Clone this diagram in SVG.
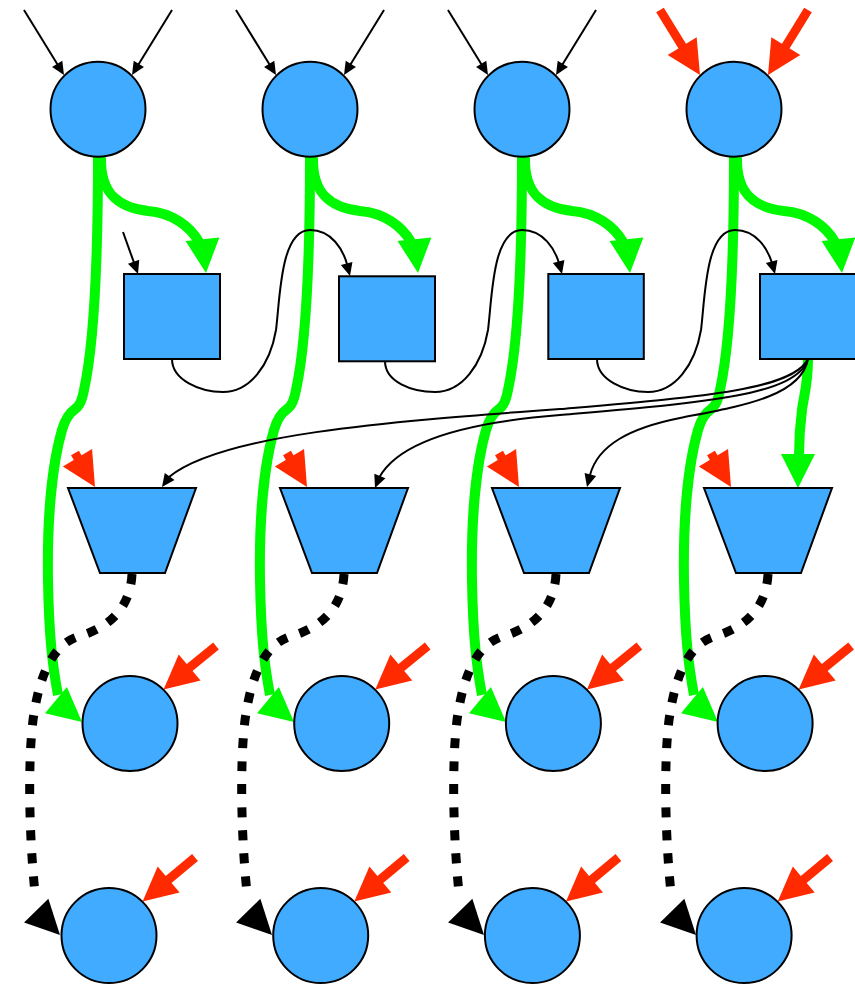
<svg xmlns="http://www.w3.org/2000/svg" xmlns:xlink="http://www.w3.org/1999/xlink" width="855" height="984" viewBox="0 0 855 984">
  <style>
    .node { fill: #40abff; stroke: #000; stroke-width: 2; }
    .thin { fill: none; stroke: #000; stroke-width: 2; }
    .green { fill: none; stroke: #00f800; stroke-width: 10; }
    .red { fill: none; stroke: #ff2a00; stroke-width: 9; }
    .dash { fill: none; stroke: #000; stroke-width: 9; stroke-dasharray: 10 13; }
    .hg { fill: #00f800; }
    .hr { fill: #ff2a00; }
    .hk { fill: #000; }
  </style>
  <defs>
    <!-- arrowheads drawn pointing along +x with the tip at the origin -->
    <path id="head" d="M0,0 L-34,-17 L-34,17 Z"/>
    <path id="headThin" d="M0,0 L-13,-6 L-13,6 Z"/>
  </defs>

  <g id="connectors">
    <!-- green trunks: top circle down to the fourth row -->
    <g id="trunks">
      <path class="green" d="M98,157 C98,250 95,340 84,390 C82,400 80,406 74,410 C68,414 65,420 62,430 C52,465 47,520 48,580 C49,640 53,668 58,695"/>
      <path class="green" transform="translate(212,0)" d="M98,157 C98,250 95,340 84,390 C82,400 80,406 74,410 C68,414 65,420 62,430 C52,465 47,520 48,580 C49,640 53,668 58,695"/>
      <path class="green" transform="translate(424,0)" d="M98,157 C98,250 95,340 84,390 C82,400 80,406 74,410 C68,414 65,420 62,430 C52,465 47,520 48,580 C49,640 53,668 58,695"/>
      <path class="green" transform="translate(636,0)" d="M98,157 C98,250 95,340 84,390 C82,400 80,406 74,410 C68,414 65,420 62,430 C52,465 47,520 48,580 C49,640 53,668 58,695"/>
      <use href="#head" class="hg" transform="translate(82,722) rotate(40)"/>
      <use href="#head" class="hg" transform="translate(294,722) rotate(40)"/>
      <use href="#head" class="hg" transform="translate(506,722) rotate(40)"/>
      <use href="#head" class="hg" transform="translate(718,722) rotate(40)"/>
    </g>

    <!-- green branches: top circle to square -->
    <g id="branches">
      <path class="green" d="M101,157 C100,195 120,208 148,211 C172,213 190,226 199,242"/>
      <path class="green" transform="translate(212,0)" d="M101,157 C100,195 120,208 148,211 C172,213 190,226 199,242"/>
      <path class="green" transform="translate(424,0)" d="M101,157 C100,195 120,208 148,211 C172,213 190,226 199,242"/>
      <path class="green" transform="translate(636,0)" d="M101,157 C100,195 120,208 148,211 C172,213 190,226 199,242"/>
      <use href="#head" class="hg" transform="translate(206,273) rotate(84)"/>
      <use href="#head" class="hg" transform="translate(418,273) rotate(84)"/>
      <use href="#head" class="hg" transform="translate(630,273) rotate(84)"/>
      <use href="#head" class="hg" transform="translate(842,273) rotate(84)"/>
      <!-- last square to last trapezoid -->
      <path class="green" d="M808,359 C808,385 803,400 802,410 C800,425 799,440 799,456"/>
      <use href="#head" class="hg" transform="translate(798,488) rotate(90)"/>
    </g>

    <!-- top inputs -->
    <g id="inputs">
      <path class="thin" d="M24,10 L57.7,64.8"/>
      <path class="thin" d="M172,10 L138.3,64.8"/>
      <path class="thin" d="M236,10 L269.7,64.8"/>
      <path class="thin" d="M384,10 L350.3,64.8"/>
      <path class="thin" d="M448,10 L481.7,64.8"/>
      <path class="thin" d="M596,10 L562.3,64.8"/>
      <use href="#headThin" class="hk" transform="translate(64,75) rotate(58.4)"/>
      <use href="#headThin" class="hk" transform="translate(132,75) rotate(121.6)"/>
      <use href="#headThin" class="hk" transform="translate(276,75) rotate(58.4)"/>
      <use href="#headThin" class="hk" transform="translate(344,75) rotate(121.6)"/>
      <use href="#headThin" class="hk" transform="translate(488,75) rotate(58.4)"/>
      <use href="#headThin" class="hk" transform="translate(556,75) rotate(121.6)"/>
      <path class="red" d="M660,10 L684,49"/>
      <path class="red" d="M808,10 L784,49"/>
      <use href="#head" class="hr" transform="translate(700,75) rotate(58.4)"/>
      <use href="#head" class="hr" transform="translate(768,75) rotate(121.6)"/>
      <!-- input into the first square -->
      <path class="thin" d="M123,232 L134,262.7"/>
      <use href="#headThin" class="hk" transform="translate(138,274) rotate(70.3)"/>
    </g>

    <!-- square chain -->
    <g id="chain">
      <path class="thin" d="M172,359 C172,380 200,392 223,392 C250,392 270,365 276,330 C280,300 280,230 310,230 C332,230 343,250 347,264"/>
      <path class="thin" d="M385,361 C385,382 412,392 435,392 C462,392 482,365 488,330 C492,300 492,230 522,230 C544,230 555,250 559,263"/>
      <path class="thin" d="M597,359 C597,380 625,392 648,392 C675,392 695,365 701,330 C705,300 705,230 735,230 C757,230 768,250 772,263"/>
      <use href="#headThin" class="hk" transform="translate(350,276) rotate(75)"/>
      <use href="#headThin" class="hk" transform="translate(562,274) rotate(75)"/>
      <use href="#headThin" class="hk" transform="translate(775,274) rotate(75)"/>
    </g>

    <!-- fan-out from the last square -->
    <g id="fanout">
      <path class="thin" d="M808,359 C793,390 700,397 560,409 C380,422 220,435 169,477"/>
      <path class="thin" d="M808,359 C797,396 700,403 560,415 C470,422 400,440 379.5,477"/>
      <path class="thin" d="M808,359 C801,397 740,406 680,418 C630,428 598,445 590,475"/>
      <use href="#headThin" class="hk" transform="translate(162,487) rotate(126)"/>
      <use href="#headThin" class="hk" transform="translate(375,488) rotate(112)"/>
      <use href="#headThin" class="hk" transform="translate(587,487) rotate(105)"/>
    </g>

    <!-- red inputs into trapezoids -->
    <g id="trap-inputs">
      <path class="red" d="M75,453 L79,460"/>
      <path class="red" d="M287,453 L291,460"/>
      <path class="red" d="M499,453 L503,460"/>
      <path class="red" d="M711,453 L715,460"/>
      <use href="#head" class="hr" transform="translate(95,487) rotate(59)"/>
      <use href="#head" class="hr" transform="translate(307,487) rotate(59)"/>
      <use href="#head" class="hr" transform="translate(519,487) rotate(59)"/>
      <use href="#head" class="hr" transform="translate(731,487) rotate(59)"/>
    </g>

    <!-- dotted: trapezoid to bottom circle -->
    <g id="dotted">
      <path class="dash" d="M132,574 C130,615 100,630 80,636 C55,643 40,670 33,720 C27,770 30,845 35,893"/>
      <path class="dash" transform="translate(212,0)" d="M132,574 C130,615 100,630 80,636 C55,643 40,670 33,720 C27,770 30,845 35,893"/>
      <path class="dash" transform="translate(424,0)" d="M132,574 C130,615 100,630 80,636 C55,643 40,670 33,720 C27,770 30,845 35,893"/>
      <path class="dash" transform="translate(636,0)" d="M132,574 C130,615 100,630 80,636 C55,643 40,670 33,720 C27,770 30,845 35,893"/>
      <use href="#head" class="hk" transform="translate(60,935) rotate(45.6)"/>
      <use href="#head" class="hk" transform="translate(272,935) rotate(45.6)"/>
      <use href="#head" class="hk" transform="translate(484,935) rotate(45.6)"/>
      <use href="#head" class="hk" transform="translate(696,935) rotate(45.6)"/>
    </g>

    <!-- red inputs into the lower circles -->
    <g id="circle-inputs">
      <path class="red" d="M216,646 L189,668"/>
      <path class="red" d="M427.7,646 L400.7,668"/>
      <path class="red" d="M639.4,646 L612.4,668"/>
      <path class="red" d="M851.1,646 L824.1,668"/>
      <use href="#head" class="hr" transform="translate(163.6,689.4) rotate(140)"/>
      <use href="#head" class="hr" transform="translate(375.3,689.4) rotate(140)"/>
      <use href="#head" class="hr" transform="translate(587,689.4) rotate(140)"/>
      <use href="#head" class="hr" transform="translate(798.7,689.4) rotate(140)"/>
      <path class="red" d="M195,857.5 L168,880"/>
      <path class="red" d="M406.7,857.5 L379.7,880"/>
      <path class="red" d="M618.4,857.5 L591.4,880"/>
      <path class="red" d="M830.1,857.5 L803.1,880"/>
      <use href="#head" class="hr" transform="translate(142.6,901.4) rotate(140)"/>
      <use href="#head" class="hr" transform="translate(354.3,901.4) rotate(140)"/>
      <use href="#head" class="hr" transform="translate(566,901.4) rotate(140)"/>
      <use href="#head" class="hr" transform="translate(777.7,901.4) rotate(140)"/>
    </g>
  </g>

  <!-- row 1: circles -->
  <g id="a1"><circle class="node" cx="98" cy="109.2" r="47.5"/></g>
  <g id="a2"><circle class="node" cx="310" cy="109.2" r="47.5"/></g>
  <g id="a3"><circle class="node" cx="522" cy="109.2" r="47.5"/></g>
  <g id="a4"><circle class="node" cx="734" cy="109.2" r="47.5"/></g>

  <!-- row 2: squares -->
  <g id="b1"><rect class="node" x="124" y="274" width="96" height="85"/></g>
  <g id="b2"><rect class="node" x="339" y="276.3" width="96" height="85"/></g>
  <g id="b3"><rect class="node" x="548.3" y="274" width="95.5" height="85"/></g>
  <g id="b4"><rect class="node" x="760" y="274" width="96" height="85"/></g>

  <!-- row 3: trapezoids -->
  <g id="c1"><polygon class="node" points="68,488 196,488 165,573 100,573"/></g>
  <g id="c2"><polygon class="node" points="280,488 408,488 377,573 312,573"/></g>
  <g id="c3"><polygon class="node" points="492,488 620,488 589,573 524,573"/></g>
  <g id="c4"><polygon class="node" points="704,488 832,488 801,573 736,573"/></g>

  <!-- row 4: circles -->
  <g id="d1"><circle class="node" cx="130" cy="723.5" r="47.5"/></g>
  <g id="d2"><circle class="node" cx="341.7" cy="723.5" r="47.5"/></g>
  <g id="d3"><circle class="node" cx="553.4" cy="723.5" r="47.5"/></g>
  <g id="d4"><circle class="node" cx="765.1" cy="723.5" r="47.5"/></g>

  <!-- row 5: circles -->
  <g id="e1"><circle class="node" cx="109" cy="935.5" r="47.5"/></g>
  <g id="e2"><circle class="node" cx="320.7" cy="935.5" r="47.5"/></g>
  <g id="e3"><circle class="node" cx="532.4" cy="935.5" r="47.5"/></g>
  <g id="e4"><circle class="node" cx="744.1" cy="935.5" r="47.5"/></g>
</svg>
